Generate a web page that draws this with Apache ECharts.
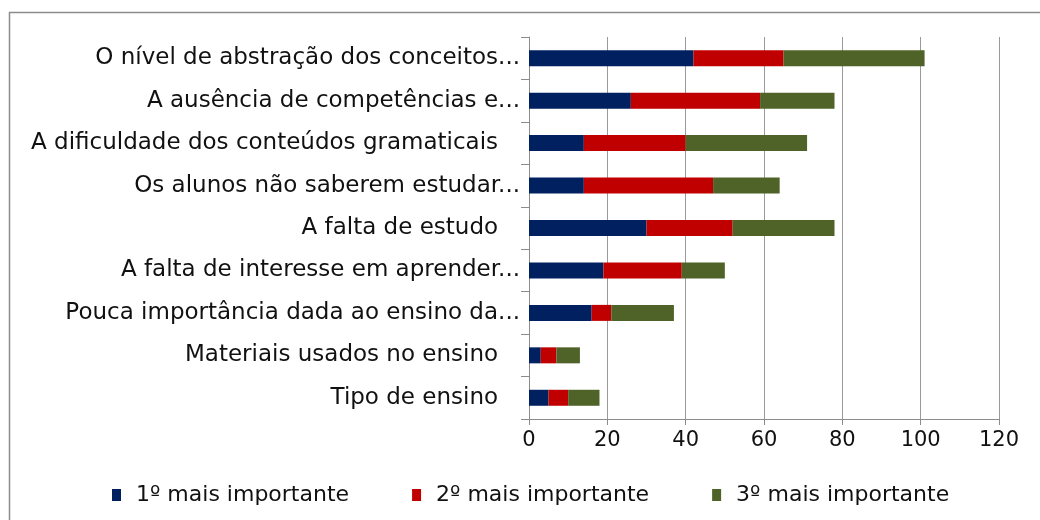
<!DOCTYPE html>
<html>
<head>
<meta charset="utf-8">
<title>Dificuldades</title>
<script src="https://cdn.jsdelivr.net/npm/echarts@6/dist/echarts.min.js"></script>
<style>
    html, body { margin: 0; padding: 0; background: #fff; }
    #chart { width: 1040px; height: 520px; }
</style>
</head>
<body>
<div id="chart"></div>
<script>
    // categorias (de cima para baixo)
    var categorias = [
        'O nível de abstração dos conceitos...',
        'A ausência de competências e...',
        'A dificuldade dos conteúdos gramaticais   ',
        'Os alunos não saberem estudar...',
        'A falta de estudo   ',
        'A falta de interesse em aprender...',
        'Pouca importância dada ao ensino da...',
        'Materiais usados no ensino   ',
        'Tipo de ensino   '
    ];
    var nomesSeries = ['1º mais importante', '2º mais importante', '3º mais importante'];
    var primeiro = [42, 26, 14, 14, 30, 19, 16, 3, 5];
    var segundo = [23, 33, 26, 33, 22, 20, 5, 4, 5];
    var terceiro = [36, 19, 31, 17, 26, 11, 16, 6, 8];
    var eixoX = [0, 20, 40, 60, 80, 100, 120];

    var cores = ['#002060', '#C00000', '#4F6228'];
    var fonte = 'DejaVu Sans';

    var chart = echarts.init(document.getElementById('chart'));

    //monta as series empilhadas
    var dados = [primeiro, segundo, terceiro];
    var series = [];
    for (var i = 0; i < dados.length; i++) {
        series.push({
            name: nomesSeries[i],
            type: 'bar',
            stack: 'total',
            barWidth: 16,
            itemStyle: { color: cores[i] },
            data: dados[i]
        });
    }

    var option = {
        animation: false,
        color: cores,
        textStyle: { fontFamily: fonte },
        graphic: [{
            type: 'rect',
            shape: { x: 9.5, y: 12.5, width: 1100, height: 600 },
            style: { fill: 'none', stroke: '#8c8c8c', lineWidth: 1.5 },
            silent: true
        }],
        grid: { left: 529, right: 41, top: 37, bottom: 101, containLabel: false },
        legend: {
            left: 107,
            top: 479,
            itemWidth: 9,
            itemHeight: 12,
            itemGap: 63,
            icon: 'rect',
            textStyle: { fontFamily: fonte, fontSize: 22, color: '#111', padding: [0, 0, 0, 10] },
            data: nomesSeries
        },
        xAxis: {
            type: 'value',
            min: eixoX[0],
            max: eixoX[eixoX.length - 1],
            interval: 20,
            axisLine: { show: true, lineStyle: { color: '#8c8c8c', width: 1 } },
            axisTick: { show: true, length: 6, lineStyle: { color: '#8c8c8c' } },
            axisLabel: { fontFamily: fonte, fontSize: 21, color: '#111', margin: 11 },
            splitLine: { show: true, lineStyle: { color: '#9a9a9a', width: 1 } }
        },
        yAxis: {
            type: 'category',
            inverse: true,
            data: categorias,
            axisLine: { show: true, lineStyle: { color: '#8c8c8c', width: 1 } },
            axisTick: { show: true, length: 8, lineStyle: { color: '#8c8c8c' } },
            axisLabel: { fontFamily: fonte, fontSize: 23, color: '#111', margin: 9 }
        },
        series: series
    };
    chart.setOption(option);
</script>
</body>
</html>
